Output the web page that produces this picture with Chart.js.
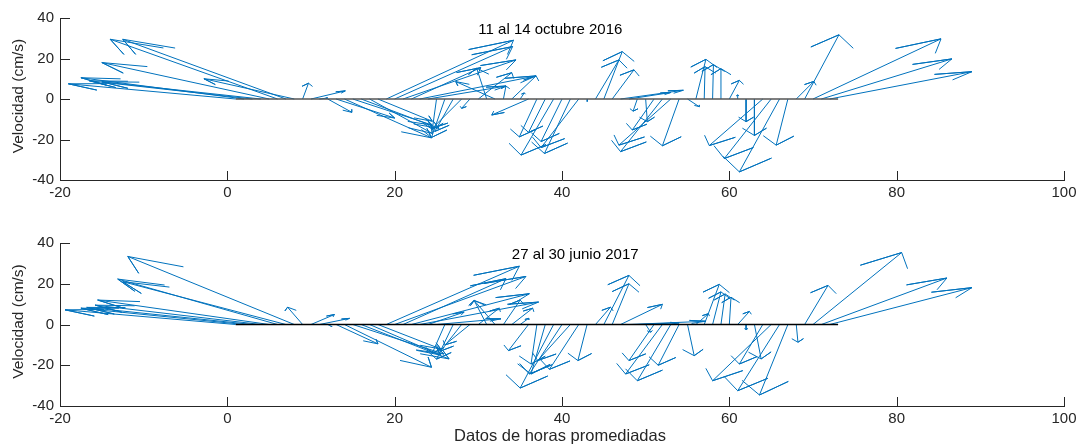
<!DOCTYPE html>
<html>
<head>
<meta charset="utf-8">
<script src="https://cdn.jsdelivr.net/npm/chart.js@4.4.1/dist/chart.umd.min.js"></script>
<style>
  html, body { margin: 0; padding: 0; background: #fff; }
  #wrap { position: relative; width: 1084px; height: 444px; }
  canvas { position: absolute; left: 0; width: 1084px; height: 222px; }
  #top { top: 0; }
  #bottom { top: 222px; }
</style>
</head>
<body>
<div id="wrap">
  <canvas id="top" width="1084" height="222"></canvas>
  <canvas id="bottom" width="1084" height="222"></canvas>
</div>
<script>
const FONT = "'Liberation Sans', Arial, Helvetica, sans-serif";
const AXIS_COLOR = '#262626';
const ARROW_COLOR = '#0072BD';

const xTicks = [-20, 0, 20, 40, 60, 80, 100];
const yTicks = [-40, -20, 0, 20, 40];

// hourly mean velocity components (cm/s), one entry per hour starting at hour 1
const uOct = [
  -20, -19.5, -19.5, -19, -20, -20, -19.5, -10.8, 0.7, 4.1,
  1.0, 2.9, 7.0, 10.4, 9.5, 9.3, 7.5, 6.5, 15.2, 14.1,
  13.5, 8.3, 13.9, 9.3, -0.5, -1.6, -2.2, -3.5, -1, 4,
  -1.2, -4.7, 0.3, 2.9, 0.5, -4.4, -2.1, -2, -3.9, -2.5,
  -3.1, -4.5, 0, 2.8, 2.2, 2.6, 7.5, 5, -0.5, 0.2,
  -2.6, -5, -6.2, -2, 1.4, 1.2, 0.1, 0.1, 0, 1.2,
  0, 0, 0, -6.4, -5.6, -4.8, -1.4, 2.1, 4.1, 15.3,
  15.6, 17, 0
];
const vOct = [
  7.5, 10.5, 9, 8.5, 18, 29.5, 29.5, 10, 7.8, 4,
  0.5, -6.6, -9.4, -19.2, -12.9, -14.5, -17, -11, 29, 25.9,
  19.3, 15.5, 11.4, 6.4, -15, -19, -16, -14.5, -4.6, 13,
  15.2, 8.6, 6.4, 11.4, 3, -7.9, -18.7, -16.5, -27.7, -21,
  -26.9, -24, -1.2, 19.3, 23.4, 14.4, 4.3, 3.2, -6, -11.2,
  -15.3, -26, -22.8, -23.1, -3.8, 19.6, 16, 17, 15, 9.2,
  2, -11.2, -18, -23, -29.4, -36, -22.8, 8.7, 31.7, 29.7,
  19.8, 13.5, 0
];
const uJun = [
  -20.4, -19.5, -19.8, -19.8, -20.5, -19.1, -19.5, -19.9, -1.8, 2.8,
  3.6, 0.5, 5, 10.4, 10.9, 10.5, 8.5, 7.5, 15.9, 15.7,
  12.3, 14.1, 14.2, 4.3, 7.7, -1.5, -2, -2.5, -3, 2.5,
  -1.5, -2.5, 2, 2.5, 1, -2.4, -0.7, -1.7, -4, -3.9,
  -3.9, -3.5, -1.1, 1.8, 3, 2, 5, 9.2, 5, 0.6,
  -3, -4.4, -4, -2.5, 0.8, 1.5, 1.8, 1.0, 0.5, 0.2,
  1.4, 0, 0.8, -2.8, -7, -5, -3.4, 0.2, 2.8, 10.6,
  15, 17, 0
];
const vJun = [
  7.2, 8, 8.4, 9.5, 12, 22.3, 21, 33.4, 8.5, 4.9,
  3, -1, -9.5, -21, -14.5, -16.9, -15, -12, 28.6, 23.6,
  22.5, 15.1, 11, 6.1, 2.8, -14, -17, -13, -10, 8,
  11.8, 11.8, 12, 8, 3, -12.8, -19.4, -24.3, -31.2, -24.3,
  -17.7, -22, -17.7, 8.5, 24.1, 20, 9.9, 1.6, 0.8, -3.8,
  -17.7, -24.3, -27.6, -20, -15.3, 5.3, 19.7, 16, 15, 13.4,
  6.4, -2.5, -16.9, -19.4, -27.6, -32.5, -34.6, -8.7, 19.2, 35.3,
  22.8, 18.1, 0
];

// feather arrows: shaft from (k,0) to (k+u,v), head at 0.8 of the length
function featherPoints(u, v) {
  const pts = [];
  u.forEach((du, i) => {
    const x0 = i + 1;
    const dv = v[i];
    const tip = { x: x0 + du, y: dv };
    pts.push(
      { x: x0, y: 0 },
      tip,
      { x: x0 + 0.8 * du - 0.08 * dv, y: 0.8 * dv + 0.08 * du },
      tip,
      { x: x0 + 0.8 * du + 0.08 * dv, y: 0.8 * dv - 0.08 * du },
      { x: x0, y: null }
    );
  });
  return pts;
}

const framePlugin = {
  id: 'frame',
  afterDraw(chart, args, opts) {
    const { ctx, chartArea: a, scales: { x, y } } = chart;
    ctx.save();
    ctx.strokeStyle = AXIS_COLOR;
    ctx.lineWidth = 1;
    ctx.beginPath();
    for (const t of xTicks) {
      const px = Math.round(x.getPixelForValue(t)) + 0.5;
      ctx.moveTo(px, a.bottom);
      ctx.lineTo(px, a.bottom - 9);
    }
    for (const t of yTicks) {
      const py = Math.round(y.getPixelForValue(t)) + 0.5;
      ctx.moveTo(a.left, py);
      ctx.lineTo(a.left + 10, py);
    }
    ctx.stroke();

    ctx.fillStyle = '#000';
    ctx.font = '15px ' + FONT;
    ctx.textAlign = 'left';
    ctx.textBaseline = 'middle';
    ctx.fillText(opts.title, x.getPixelForValue(opts.titleAt[0]), y.getPixelForValue(opts.titleAt[1]));

    ctx.fillStyle = AXIS_COLOR;
    ctx.save();
    ctx.translate(19, (a.top + a.bottom) / 2 - 3);
    ctx.rotate(-Math.PI / 2);
    ctx.textAlign = 'center';
    ctx.font = '15.5px ' + FONT;
    ctx.fillText('Velocidad (cm/s)', 0, 0);
    ctx.restore();

    if (opts.xLabel) {
      ctx.textAlign = 'center';
      ctx.font = '16.5px ' + FONT;
      ctx.fillText(opts.xLabel, 560, a.bottom + 30);
    }
    ctx.restore();
  }
};

function makeChart(id, u, v, frame, padTop, xAxisHeight, baseColor) {
  const tickFont = { family: FONT, size: 15 };
  return new Chart(document.getElementById(id), {
    type: 'scatter',
    data: {
      datasets: [
        {
          data: [{ x: 1, y: 0 }, { x: u.length, y: 0 }],
          showLine: true, borderColor: baseColor, borderWidth: 1.6, pointRadius: 0
        },
        {
          data: featherPoints(u, v),
          showLine: true, borderColor: ARROW_COLOR, borderWidth: 1, pointRadius: 0,
          spanGaps: false, borderJoinStyle: 'round', tension: 0
        }
      ]
    },
    options: {
      responsive: false,
      animation: false,
      events: [],
      layout: { padding: { top: padTop, right: 20, left: 0, bottom: 0 } },
      plugins: { legend: { display: false }, tooltip: { enabled: false }, frame },
      scales: {
        x: {
          type: 'linear', min: -20, max: 100,
          afterBuildTicks: s => { s.ticks = xTicks.map(value => ({ value })); },
          afterFit: s => { s.height = xAxisHeight; },
          grid: { display: true, drawOnChartArea: false, drawTicks: false },
          border: { color: AXIS_COLOR, width: 1 },
          ticks: { color: AXIS_COLOR, font: tickFont, padding: 4, maxRotation: 0, autoSkip: false }
        },
        y: {
          type: 'linear', min: -40, max: 40,
          afterBuildTicks: s => { s.ticks = yTicks.map(value => ({ value })); },
          afterFit: s => { s.width = 60; },
          grid: { display: true, drawOnChartArea: false, drawTicks: false },
          border: { color: AXIS_COLOR, width: 1 },
          ticks: { color: AXIS_COLOR, font: tickFont, padding: 6, autoSkip: false }
        }
      }
    },
    plugins: [framePlugin]
  });
}

makeChart('top', uOct, vOct,
  { title: '11 al 14 octubre 2016', titleAt: [30, 34] }, 18, 42, '#555555');
makeChart('bottom', uJun, vJun,
  { title: '27 al 30 junio 2017', titleAt: [34, 34], xLabel: 'Datos de horas promediadas' }, 21, 38, '#000000');
</script>
</body>
</html>
